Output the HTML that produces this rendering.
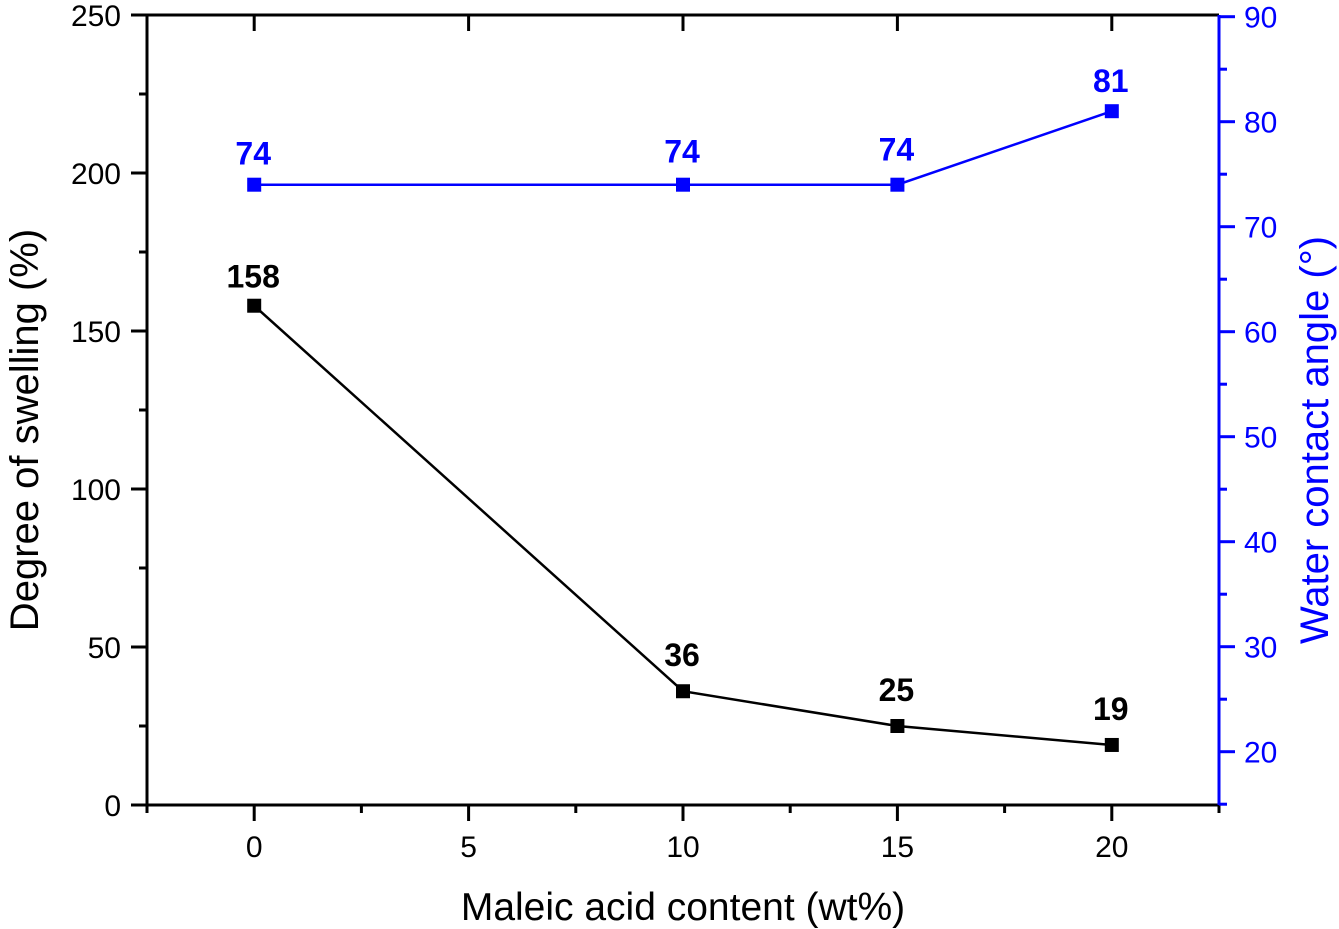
<!DOCTYPE html>
<html><head><meta charset="utf-8"><style>
body{margin:0;background:#fff;}
svg{display:block;font-family:"Liberation Sans",sans-serif;}
</style></head><body>
<svg id="chart" width="1339" height="929" viewBox="0 0 1339 929" xmlns="http://www.w3.org/2000/svg"></svg>
<script>
const categories=[0,10,15,20];
const swelling=[158,36,25,19];
const contactAngle=[74,74,74,81];
const xTicks=[0,5,10,15,20];
const leftTicks=[0,50,100,150,200,250];
const rightTicks=[20,30,40,50,60,70,80,90];

const L=147,R=1219,T=15,B=805;
const sx=v=>L+(v+2.5)/25*(R-L);
const sy=v=>B-v/250*(B-T);
const sr=v=>751.7-(v-20)*10.5;
const svg=document.getElementById('chart');
const NS='http://www.w3.org/2000/svg';
function mk(tag,attrs,parent){const e=document.createElementNS(NS,tag);for(const k in attrs)e.setAttribute(k,attrs[k]);(parent||svg).appendChild(e);return e;}
function txt(s,x,y,attrs){const e=mk('text',Object.assign({x:x,y:y},attrs));e.textContent=s;return e;}

let a;
a=mk('line',{x1:L,y1:B,x2:R,y2:B,stroke:'#000','stroke-width':3});

a=mk('line',{x1:L,y1:T,x2:R,y2:T,stroke:'#000','stroke-width':3});

a=mk('line',{x1:L,y1:T,x2:L,y2:B+8,stroke:'#000','stroke-width':3});

a=mk('line',{x1:R,y1:T,x2:R,y2:B,stroke:'#00f','stroke-width':3});


for(let v=-2.5;v<=22.5;v+=2.5){
  const major=(v%5===0);
  mk('line',{x1:sx(v),y1:B,x2:sx(v),y2:B+(major?16:8),stroke:'#000','stroke-width':3});
  if(major) mk('line',{x1:sx(v),y1:T,x2:sx(v),y2:T+16,stroke:'#000','stroke-width':3});
}
xTicks.forEach(v=>{const t=txt(String(v),sx(v),857,{'font-size':30,'text-anchor':'middle',fill:'#000'});
});
for(let v=0;v<=250;v+=25){
  const major=(v%50===0);
  mk('line',{x1:L,y1:sy(v),x2:L-(major?16:8),y2:sy(v),stroke:'#000','stroke-width':3});
}
leftTicks.forEach(v=>{const t=txt(String(v),L-26,sy(v)+11,{'font-size':30,'text-anchor':'end',fill:'#000'});
});
for(let v=15;v<=90;v+=5){
  const major=(v%10===0);
  mk('line',{x1:R,y1:sr(v),x2:R+(major?16:8),y2:sr(v),stroke:'#00f','stroke-width':3});
}
rightTicks.forEach(v=>{const t=txt(String(v),R+25,sr(v)+11,{'font-size':30,'text-anchor':'start',fill:'#00f'});
});

let t=txt('Maleic acid content (wt%)',683,920,{'font-size':39,'text-anchor':'middle',fill:'#000'});

t=txt('Degree of swelling (%)',0,0,{'font-size':40,'text-anchor':'middle',fill:'#000',transform:'translate(38,430) rotate(-90)'});

t=txt('Water contact angle (°)',0,0,{'font-size':40,'text-anchor':'middle',fill:'#00f',transform:'translate(1328,440) rotate(-90)'});


function series(vals,scale,color,name,offsets){
  const pts=categories.map((c,i)=>sx(c)+','+scale(vals[i])).join(' ');
  const pl=mk('polyline',{points:pts,fill:'none',stroke:color,'stroke-width':2.5});
  
  categories.forEach((c,i)=>{
    const r=mk('rect',{x:sx(c)-7,y:scale(vals[i])-7,width:14,height:14,fill:color});
    
    const l=txt(String(vals[i]),sx(c)-1,scale(vals[i])-offsets[i],{'font-size':32,'font-weight':'bold','text-anchor':'middle',fill:color});
    
  });
}
series(swelling,sy,'#000','swelling',[18,25,25,25]);
series(contactAngle,sr,'#00f','contact-angle',[20,22,24,19]);
</script>
</body></html>
